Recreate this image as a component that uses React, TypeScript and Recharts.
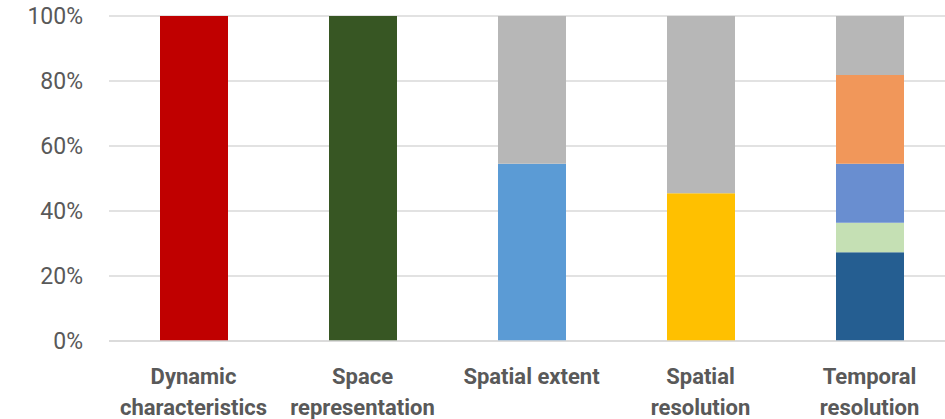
import React from 'react'
import { BarChart, Bar, XAxis, YAxis, CartesianGrid, Cell } from 'recharts'

const categories = ['Dynamic characteristics', 'Space representation', 'Spatial extent', 'Spatial resolution', 'Temporal resolution']
const labelLines = [
  ['Dynamic', 'characteristics'],
  ['Space', 'representation'],
  ['Spatial extent'],
  ['Spatial', 'resolution'],
  ['Temporal', 'resolution'],
]

// counts per segment, bottom to top (each column sums to 11)
const segment1 = [11, 11, 6, 5, 3]
const segment2 = [0, 0, 0, 0, 1]
const segment3 = [0, 0, 0, 0, 2]
const segment4 = [0, 0, 0, 0, 3]
const remainder = [0, 0, 5, 6, 2]

const segment1Colors = ['#C00000', '#375623', '#5B9BD5', '#FFC000', '#255E91']
const yTicks = [0, 0.2, 0.4, 0.6, 0.8, 1]

const data = categories.map((name, i) => ({
  name,
  s1: segment1[i],
  s2: segment2[i],
  s3: segment3[i],
  s4: segment4[i],
  rest: remainder[i],
}))

const TEXT = '#595959'
const FONT = 'Roboto, sans-serif'

function CategoryTick({ x, y, index }: any) {
  const lines = labelLines[index] || []
  return (
    <text x={x} y={y + 41} textAnchor="middle" fill={TEXT} fontFamily={FONT} fontSize={22} fontWeight="bold">
      {lines.map((l, i) => (
        <tspan key={i} x={x} dy={i === 0 ? 0 : 31}>{l}</tspan>
      ))}
    </text>
  )
}

export default function App() {
  return (
    <div style={{ position: 'absolute', left: 0, top: 0, width: 945, height: 419, overflow: 'hidden', background: '#fff' }}>
      <BarChart
        width={954}
        height={419}
        data={data}
        stackOffset="expand"
        barSize={68}
        margin={{ top: 16, right: 0, bottom: 0, left: 0 }}
      >
        <CartesianGrid vertical={false} stroke="#d9d9d9" strokeWidth={1.3} />
        <XAxis
          dataKey="name"
          axisLine={{ stroke: '#d9d9d9', strokeWidth: 1.3 }}
          tickLine={false}
          tickSize={0}
          height={78}
          interval={0}
          tick={<CategoryTick />}
        />
        <YAxis
          width={109}
          domain={[0, 1]}
          ticks={yTicks}
          axisLine={false}
          tickLine={false}
          tickSize={0}
          tickMargin={26}
          tickFormatter={(v: number) => `${Math.round(v * 100)}%`}
          tick={{ fill: TEXT, fontFamily: FONT, fontSize: 23 }}
        />
        <Bar dataKey="s1" stackId="a" isAnimationActive={false}>
          {data.map((_, i) => (
            <Cell key={i} fill={segment1Colors[i]} />
          ))}
        </Bar>
        <Bar dataKey="s2" stackId="a" fill="#C5E0B4" isAnimationActive={false} />
        <Bar dataKey="s3" stackId="a" fill="#698ED0" isAnimationActive={false} />
        <Bar dataKey="s4" stackId="a" fill="#F1975A" isAnimationActive={false} />
        <Bar dataKey="rest" stackId="a" fill="#B7B7B7" isAnimationActive={false} />
      </BarChart>
    </div>
  )
}
